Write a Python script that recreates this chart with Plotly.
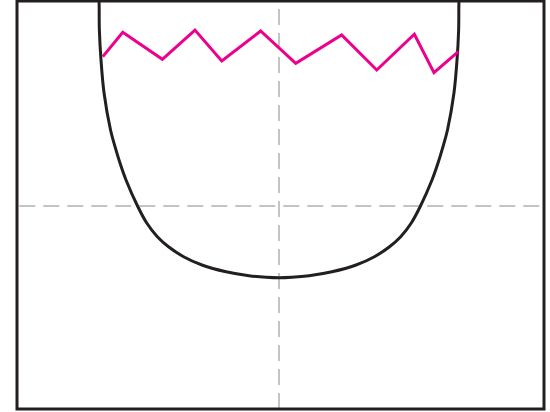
"""
Potential well sketch: a U-shaped confining curve with a jagged
level near the top, inside a heavy frame with dashed axes.
"""

import plotly.graph_objects as go

# Well curve (left branch top -> bottom, mirrored for the right)
well_half_x = [1.003, 1.0, 0.998, 0.989, 0.972, 0.936, 0.911, 0.883, 0.850,
               0.786, 0.734, 0.676, 0.614, 0.530, 0.428, 0.294, 0.167, 0.072, 0.0]
well_half_y = [2.931, 2.861, 2.444, 2.028, 1.569, 1.056, 0.824, 0.593, 0.361,
               0.0, -0.240, -0.426, -0.565, -0.704, -0.819, -0.913, -0.968, -0.990, -0.997]

# Jagged line vertices
zigzag_x = [-0.979, -0.868, -0.648, -0.467, -0.318, -0.102,
            0.093, 0.348, 0.543, 0.752, 0.861, 0.996]
zigzag_y = [2.074, 2.413, 2.038, 2.444, 2.014, 2.431,
            1.982, 2.375, 1.889, 2.385, 1.851, 2.143]

x_range = [-1.4556, 1.4722]
y_range = [-2.819, 2.847]

FRAME_COLOR = "#231f20"
ZIGZAG_COLOR = "#ec008c"
DASH_COLOR = "#c4c4c4"

well_x = [-v for v in well_half_x] + well_half_x[-2::-1]
well_y = well_half_y + well_half_y[-2::-1]

fig = go.Figure()

# simplify off, otherwise plotly drops near-collinear points before smoothing
fig.add_trace(
    go.Scatter(
        x=well_x,
        y=well_y,
        mode="lines",
        line=dict(color=FRAME_COLOR, width=3, shape="spline",
                  smoothing=1, simplify=False),
        hoverinfo="skip",
        showlegend=False,
    )
)

fig.add_trace(
    go.Scatter(
        x=zigzag_x,
        y=zigzag_y,
        mode="lines",
        line=dict(color=ZIGZAG_COLOR, width=3),
        hoverinfo="skip",
        showlegend=False,
    )
)

# Dashed reference axes
dash_line = dict(color=DASH_COLOR, width=2, dash="16px,8px")
fig.add_shape(
    type="line", xref="x", yref="y",
    x0=0, x1=0, y0=2.736, y1=y_range[0],
    line=dash_line, layer="below",
)
fig.add_shape(
    type="line", xref="x", yref="y",
    x0=-1.443, x1=x_range[1], y0=0, y1=0,
    line=dash_line, layer="below",
)

# Heavy frame around the plot area
fig.add_shape(
    type="rect", xref="paper", yref="paper",
    x0=0, x1=1, y0=0, y1=1,
    line=dict(color=FRAME_COLOR, width=3),
    layer="above",
)

axis_style = dict(
    showgrid=False,
    zeroline=False,
    showticklabels=False,
    showline=False,
    ticks="",
    fixedrange=True,
)

fig.update_layout(
    width=550,
    height=412,
    margin=dict(l=17, r=6, t=1, b=3),
    paper_bgcolor="white",
    plot_bgcolor="white",
    xaxis=dict(range=x_range, **axis_style),
    yaxis=dict(range=y_range, **axis_style),
    showlegend=False,
)

# drop the browser's default body margin so the figure sits at the page corner
fig.write_html(
    "out.html",
    config={"displayModeBar": False},
    post_script="document.body.style.margin = '0';",
)
